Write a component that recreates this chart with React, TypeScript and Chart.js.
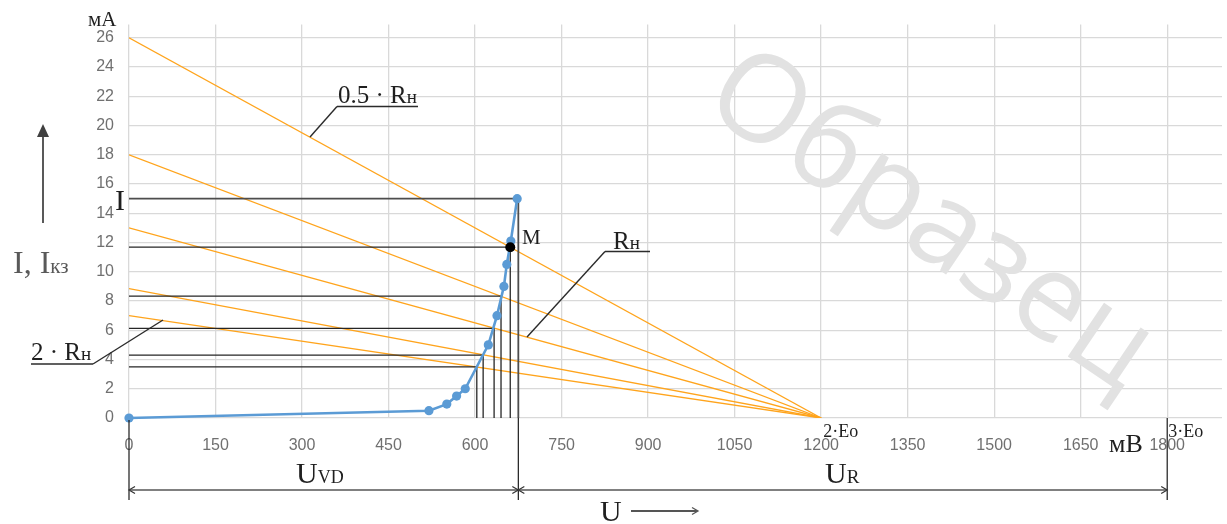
import React, { useEffect, useRef } from "react";
import { Chart, registerables } from "chart.js";

Chart.register(...registerables);

// ---- axes ----
const xTickStep = 150; // mV
const yTickStep = 2; // mA
const xMaxValue = 1895;
const yMaxValue = 26.9;

// ---- diode I-V curve (U in mV, I in mA) ----
const diodeU = [0, 520, 551, 568, 583, 623, 638, 650, 655, 662, 673];
const diodeI = [0, 0.5, 0.95, 1.5, 2.0, 5.0, 7.0, 9.0, 10.5, 12.1, 15.0];

// ---- load lines: short-circuit current at U = 0, all end at 2·E0 ----
const twoE0 = 1200;
const threeE0 = 1800;
const loadIsc = [26, 18, 13, 8.85, 7];

// ---- operating points (intersections used for construction lines) ----
const opU = [661, 645, 633, 614, 603];
const opI = [11.68, 8.33, 6.13, 4.3, 3.5];

// ---- maximum current point ----
const maxU = [675];
const maxI = [15];

// ---- point M ----
const mU = [661];
const mI = [11.68];

const ORANGE = "#ffa41c";
const BLUE = "#5b9bd5";
const SERIF = '"Liberation Serif", "Times New Roman", serif';

function textRuns(
  ctx: CanvasRenderingContext2D,
  x: number,
  y: number,
  parts: [string, number][],
  color: string
) {
  ctx.save();
  ctx.fillStyle = color;
  ctx.textAlign = "left";
  ctx.textBaseline = "alphabetic";
  let cx = x;
  for (const [t, s] of parts) {
    ctx.font = `${s}px ${SERIF}`;
    ctx.fillText(t, cx, y);
    cx += ctx.measureText(t).width;
  }
  ctx.restore();
  return cx;
}

function line(ctx: CanvasRenderingContext2D, x1: number, y1: number, x2: number, y2: number) {
  ctx.beginPath();
  ctx.moveTo(x1, y1);
  ctx.lineTo(x2, y2);
  ctx.stroke();
}

function chevron(ctx: CanvasRenderingContext2D, x: number, y: number, dir: number) {
  ctx.beginPath();
  ctx.moveTo(x - dir * 6, y - 3.5);
  ctx.lineTo(x, y);
  ctx.lineTo(x - dir * 6, y + 3.5);
  ctx.stroke();
}

const annotations = {
  id: "annotations",
  beforeDatasetsDraw(chart: any) {
    const ctx: CanvasRenderingContext2D = chart.ctx;
    ctx.save();
    ctx.translate(930, 222);
    ctx.rotate((34 * Math.PI) / 180);
    ctx.font = '121px "Open Sans", sans-serif';
    ctx.fillStyle = "#e2e2e2";
    ctx.textAlign = "center";
    ctx.textBaseline = "middle";
    ctx.fillText("Образец", 0, 0);
    ctx.restore();
  },
  afterDraw(chart: any) {
    const ctx: CanvasRenderingContext2D = chart.ctx;
    const xs = chart.scales.x;
    const ys = chart.scales.y;
    const x0 = xs.getPixelForValue(0);
    const xm = xs.getPixelForValue(maxU[0]);
    const x3 = xs.getPixelForValue(threeE0);
    const x2e = xs.getPixelForValue(twoE0);
    const yAxis = ys.getPixelForValue(0);
    const yDim = 490;

    ctx.save();
    // extension lines below axis
    ctx.strokeStyle = "#1a1a1a";
    ctx.lineWidth = 1.2;
    line(ctx, x0, yAxis + 2, x0, yDim + 10);
    line(ctx, xm, yAxis, xm, yDim + 10);
    line(ctx, x3, yAxis, x3, yDim + 10);

    // dimension line
    ctx.strokeStyle = "#808080";
    ctx.lineWidth = 2.2;
    line(ctx, x0, yDim, x3, yDim);
    ctx.strokeStyle = "#333";
    ctx.lineWidth = 1.2;
    chevron(ctx, x0, yDim, -1);
    chevron(ctx, xm, yDim, 1);
    chevron(ctx, xm, yDim, -1);
    chevron(ctx, x3, yDim, 1);

    // U arrow
    ctx.strokeStyle = "#555";
    ctx.lineWidth = 2;
    line(ctx, 631, 511, 697, 511);
    ctx.lineWidth = 1.3;
    chevron(ctx, 698, 511, 1);

    // vertical I arrow
    ctx.strokeStyle = "#595959";
    ctx.fillStyle = "#404040";
    ctx.lineWidth = 2;
    line(ctx, 43, 223, 43, 134);
    ctx.beginPath();
    ctx.moveTo(43, 124);
    ctx.lineTo(37, 137);
    ctx.lineTo(49, 137);
    ctx.closePath();
    ctx.fill();

    // leader lines + underlines
    ctx.strokeStyle = "#2b2b2b";
    ctx.lineWidth = 1.4;
    line(ctx, 337, 106.5, 418, 106.5);
    line(ctx, 337, 106.5, 310, 137);
    line(ctx, 31, 364, 93, 364);
    line(ctx, 93, 364, 163, 320);
    line(ctx, 605, 251.5, 650, 251.5);
    line(ctx, 605, 251.5, 527, 337);
    ctx.restore();

    const dark = "#1f1f1f";
    textRuns(ctx, 88, 26, [["мА", 21]], dark);
    textRuns(ctx, 115, 210, [["I", 30]], dark);
    textRuns(ctx, 13, 273, [["I, I", 32], ["кз", 21]], "#595959");
    textRuns(ctx, 338, 103, [["0.5 · R", 25], ["н", 19]], dark);
    textRuns(ctx, 31, 360, [["2 · R", 25], ["н", 19]], dark);
    textRuns(ctx, 613, 249, [["R", 25], ["н", 19]], dark);
    textRuns(ctx, 522, 244, [["M", 21]], dark);
    textRuns(ctx, x2e + 2, 437, [["2·Eo", 18]], dark);
    textRuns(ctx, x3 + 1, 437, [["3·Eo", 18]], dark);
    textRuns(ctx, 1109, 452, [["мВ", 26]], dark);
    textRuns(ctx, 296, 483, [["U", 30], ["VD", 18]], dark);
    textRuns(ctx, 825, 483, [["U", 30], ["R", 19]], dark);
    textRuns(ctx, 600, 521, [["U", 30]], dark);
  },
};

export default function App() {
  const canvasRef = useRef<HTMLCanvasElement | null>(null);

  useEffect(() => {
    document.body.style.margin = "0";
    const canvas = canvasRef.current;
    if (!canvas) return;

    const datasets: any[] = [];

    // point M (drawn on top)
    datasets.push({
      data: mU.map((u, k) => ({ x: u, y: mI[k] })),
      showLine: false,
      pointRadius: 5,
      pointBackgroundColor: "#000",
      pointBorderWidth: 0,
      clip: false,
      order: 0,
    });

    // diode curve
    datasets.push({
      data: diodeU.map((u, k) => ({ x: u, y: diodeI[k] })),
      borderColor: BLUE,
      borderWidth: 2.6,
      pointRadius: 4.6,
      pointBackgroundColor: BLUE,
      pointBorderWidth: 0,
      clip: false,
      order: 1,
    });

    // max current construction line
    datasets.push({
      data: [
        { x: 0, y: maxI[0] },
        { x: maxU[0], y: maxI[0] },
        { x: maxU[0], y: 0 },
      ],
      borderColor: "#4d4d4d",
      borderWidth: 1.8,
      pointRadius: 0,
      order: 2,
    });

    // operating point construction lines
    opU.forEach((u, k) => {
      datasets.push({
        data: [
          { x: 0, y: opI[k] },
          { x: u, y: opI[k] },
          { x: u, y: 0 },
        ],
        borderColor: "#262626",
        borderWidth: 1.3,
        pointRadius: 0,
        order: 2,
      });
    });

    // load lines
    loadIsc.forEach((isc) => {
      datasets.push({
        data: [
          { x: 0, y: isc },
          { x: twoE0, y: 0 },
        ],
        borderColor: ORANGE,
        borderWidth: 1.3,
        pointRadius: 0,
        order: 3,
      });
    });

    const tickFont = { family: '"Liberation Sans", Arial, sans-serif', size: 16 };
    const plain = (v: any) => String(v);

    const chart = new Chart(canvas, {
      type: "line",
      data: { datasets },
      options: {
        animation: false,
        responsive: false,
        events: [],
        layout: { padding: { left: 0, top: 23, right: 5, bottom: 0 } },
        plugins: { legend: { display: false }, tooltip: { enabled: false } },
        scales: {
          x: {
            type: "linear",
            min: 0,
            max: xMaxValue,
            border: { display: false },
            grid: { color: "#d9d9d9", lineWidth: 1.3, drawTicks: false },
            ticks: {
              stepSize: xTickStep,
              includeBounds: false,
              padding: 18,
              color: "#707070",
              font: tickFont,
              maxRotation: 0,
              autoSkip: false,
              callback: plain,
            },
            afterFit: (s: any) => {
              s.height = 106;
            },
          },
          y: {
            type: "linear",
            min: 0,
            max: yMaxValue,
            border: { display: false },
            grid: { color: "#d9d9d9", lineWidth: 1.3, drawTicks: false },
            ticks: {
              stepSize: yTickStep,
              includeBounds: false,
              padding: 15,
              color: "#707070",
              font: tickFont,
              autoSkip: false,
              callback: plain,
            },
            afterFit: (s: any) => {
              s.width = 129;
            },
          },
        },
      } as any,
      plugins: [annotations],
    });

    return () => chart.destroy();
  }, []);

  return (
    <div style={{ position: "absolute", left: 0, top: 0, width: 1227, height: 524 }}>
      <canvas ref={canvasRef} width={1227} height={524} />
    </div>
  );
}
